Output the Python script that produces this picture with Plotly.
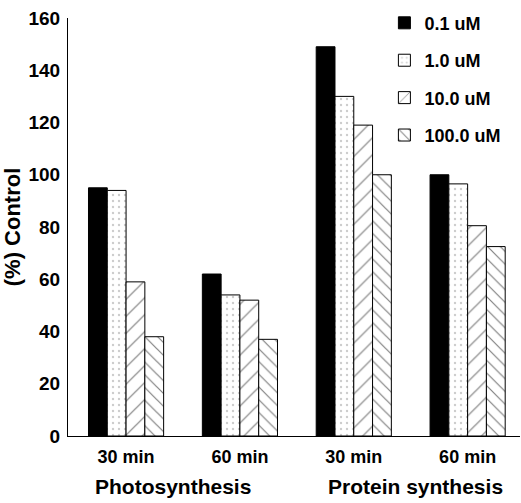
import plotly.graph_objects as go

categories = ["30 min", "60 min", "30 min", "60 min"]
groups = ["Photosynthesis", "Protein synthesis"]
series_names = ["0.1 uM", "1.0 uM", "10.0 uM", "100.0 uM"]
v_01 = [95, 62, 149, 100]
v_10 = [94, 54, 130, 96.5]
v_100 = [59, 52, 119, 80.5]
v_1000 = [38, 37, 100, 72.5]
y_ticks = [0, 20, 40, 60, 80, 100, 120, 140, 160]

values = [v_01, v_10, v_100, v_1000]
xpos = list(range(len(categories)))

styles = [
    dict(color="black", pattern=dict(shape="")),
    dict(color="white", pattern=dict(shape=".", fgcolor="#999999", size=6, solidity=0.12)),
    dict(color="white", pattern=dict(shape="/", fgcolor="black", size=12, solidity=0.1)),
    dict(color="white", pattern=dict(shape="\\", fgcolor="black", size=9, solidity=0.13)),
]

FONT = "Liberation Sans, Arial, Helvetica, sans-serif"

fig = go.Figure()
for i, (name, vals) in enumerate(zip(series_names, values)):
    fig.add_trace(go.Bar(
        x=xpos, y=vals, name=name, legendgroup=name,
        marker=dict(color=styles[i]["color"], pattern=styles[i]["pattern"],
                    line=dict(color="black", width=1)),
    ))

fig.update_layout(
    width=521, height=503,
    margin=dict(l=68, r=1, t=18, b=67),
    paper_bgcolor="white", plot_bgcolor="white",
    barmode="group", bargap=0.34, bargroupgap=0,
    font=dict(family=FONT, size=18, color="black", weight="bold"),
    showlegend=True,
    legend=dict(x=0.70, y=1.032, xanchor="left", yanchor="top",
                font=dict(size=18, family=FONT, weight="bold"),
                tracegroupgap=11, bgcolor="rgba(0,0,0,0)"),
    xaxis=dict(tickmode="array", tickvals=xpos, ticktext=categories,
               range=[-0.51, 3.46], showline=True, linecolor="black", linewidth=1,
               showgrid=False, zeroline=False, ticks="", ticklabelstandoff=4,
               tickfont=dict(size=18, family=FONT, weight="bold")),
    yaxis=dict(range=[0, 160], tickvals=y_ticks, showline=True, linecolor="black",
               linewidth=1, showgrid=False, zeroline=False, ticks="",
               ticklabelstandoff=3,
               tickfont=dict(size=19, family=FONT, weight="bold"),
               title=dict(text="(%) Control", standoff=2,
                          font=dict(size=22, family=FONT, weight="bold"))),
)

group_x = [0.41, 2.54]
for gx, g in zip(group_x, groups):
    fig.add_annotation(x=gx, y=-0.12, xref="x", yref="paper",
                       text=g, showarrow=False, yanchor="middle",
                       font=dict(size=21, family=FONT, weight="bold"))

fig.write_html("out.html", config={"displayModeBar": False},
               post_script="document.body.style.margin='0';")
